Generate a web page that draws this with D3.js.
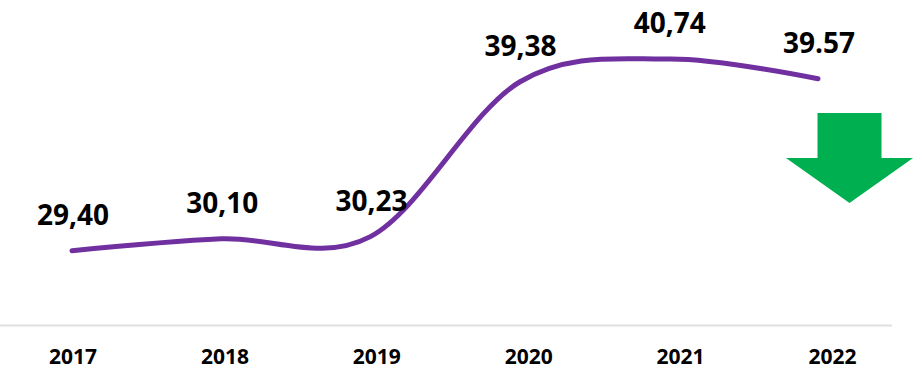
<!DOCTYPE html>
<html>
<head>
<meta charset="utf-8">
<script src="https://cdn.jsdelivr.net/npm/d3@7/dist/d3.min.js"></script>
<style>
  html, body { margin: 0; padding: 0; background: #ffffff; }
  svg { display: block; }
</style>
</head>
<body>
<svg id="chart" width="922" height="390"></svg>
<script>
// Yearly values and their printed labels
const years = ["2017", "2018", "2019", "2020", "2021", "2022"];
const values = [29.40, 30.10, 30.23, 39.38, 40.74, 39.57];
const valueLabels = ["29,40", "30,10", "30,23", "39,38", "40,74", "39.57"];

const svg = d3.select("#chart");

// Scales
const xLine = d3.scalePoint().domain(years).range([72, 818]);
const xAxis = d3.scalePoint().domain(years).range([72.5, 832]);
const y = d3.scaleLinear().domain([25, 45]).range([325, -13]);

// Baseline
svg.append("line")
  .attr("x1", 0).attr("x2", 892)
  .attr("y1", 325.5).attr("y2", 325.5)
  .attr("stroke", "#e0e0e0")
  .attr("stroke-width", 2);

// Year labels
const axis = d3.axisBottom(xAxis).tickSize(0).tickPadding(0);
const gAxis = svg.append("g")
  .attr("transform", "translate(0,364)")
  .call(axis);
gAxis.select(".domain").remove();
gAxis.selectAll("text")
  .attr("dy", 0)
  .attr("font-family", "'Open Sans', sans-serif")
  .attr("font-weight", "bold")
  .attr("font-size", 21)
  .attr("fill", "#000");

// Smoothed series line
const line = d3.line()
  .x((d, i) => xLine(years[i]))
  .y(d => y(d))
  .curve(d3.curveCardinal.tension(0));

svg.append("path")
  .datum(values)
  .attr("d", line)
  .attr("fill", "none")
  .attr("stroke", "#7030A0")
  .attr("stroke-width", 5)
  .attr("stroke-linecap", "round");

// Value labels above each point
svg.append("g")
  .selectAll("text")
  .data(values)
  .join("text")
  .attr("x", (d, i) => xLine(years[i]) + 1)
  .attr("y", d => y(d) - 26)
  .attr("text-anchor", "middle")
  .attr("font-family", "'Open Sans', sans-serif")
  .attr("font-weight", "bold")
  .attr("font-size", 28)
  .attr("fill", "#000")
  .text((d, i) => valueLabels[i]);

// Downward trend arrow
const arrowX = 849.5, shaftW = 64, headW = 127, arrowTop = 113, arrowNeck = 158, arrowTip = 203;
const arrow = d3.path();
arrow.moveTo(arrowX - shaftW / 2, arrowTop);
arrow.lineTo(arrowX + shaftW / 2, arrowTop);
arrow.lineTo(arrowX + shaftW / 2, arrowNeck);
arrow.lineTo(arrowX + headW / 2, arrowNeck);
arrow.lineTo(arrowX, arrowTip);
arrow.lineTo(arrowX - headW / 2, arrowNeck);
arrow.lineTo(arrowX - shaftW / 2, arrowNeck);
arrow.closePath();
svg.append("path")
  .attr("d", arrow.toString())
  .attr("fill", "#00B050");
</script>
</body>
</html>
